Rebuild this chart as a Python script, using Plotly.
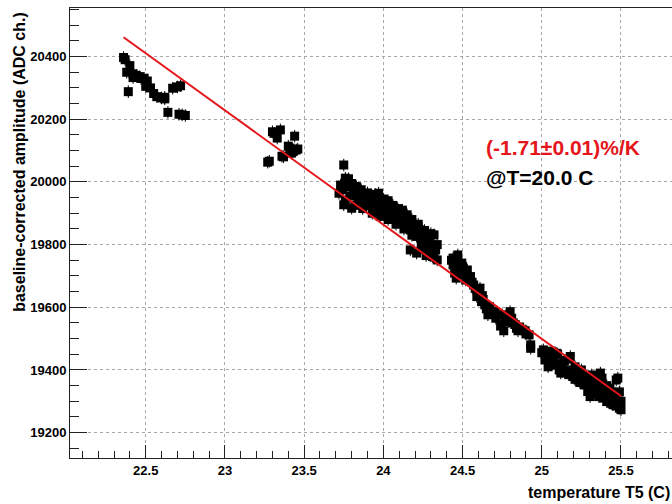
import plotly.graph_objects as go

# ---- data ----
temp_c1 = [22.36, 22.37, 22.40, 22.38, 22.39, 22.42, 22.42, 22.44, 22.46, 22.47, 22.49, 22.51, 22.50,
           22.53, 22.55, 22.57, 22.60, 22.62, 22.62, 22.64, 22.67, 22.70, 22.72, 22.71, 22.73, 22.75]
amp_c1 = [20397, 20390, 20371, 20350, 20288, 20345, 20333, 20340, 20336, 20330, 20331, 20322, 20305,
          20300, 20282, 20272, 20268, 20270, 20265, 20222, 20299, 20303, 20307, 20216, 20214, 20212]

temp_c2 = [23.27, 23.28, 23.30, 23.31, 23.33, 23.35, 23.36, 23.37, 23.40, 23.41, 23.43, 23.44, 23.45, 23.46, 23.42]
amp_c2 = [20063, 20066, 20160, 20155, 20140, 20166, 20082, 20080, 20114, 20108, 20097, 20146, 20102, 20105, 20092]

temp_c3 = [23.72, 23.73, 23.74, 23.75, 23.75, 23.76, 23.77, 23.78, 23.79, 23.80, 23.81, 23.82, 23.83, 23.84,
           23.85, 23.86, 23.87, 23.88, 23.89, 23.90, 23.91, 23.92, 23.93, 23.94, 23.95, 23.96, 23.97, 23.98,
           23.99, 24.00, 24.01, 24.02, 24.03, 24.04, 24.05, 24.06, 24.07, 24.08, 24.09, 24.10, 24.11, 24.12,
           24.13, 24.14, 24.15, 24.16, 24.17, 24.17, 24.18, 24.19, 24.20, 24.21, 24.21, 24.22, 24.23, 24.24,
           24.25, 24.26, 24.27, 24.28, 24.29, 24.30, 24.31, 24.32, 24.33, 24.34,
           23.78, 23.80, 23.83, 23.86, 23.90, 23.95, 24.00, 24.03, 24.06, 24.09, 24.12, 24.15, 24.18, 24.22,
           24.26, 24.30, 24.34, 23.76, 23.82, 23.87, 23.93, 23.98, 24.03, 24.08, 24.13, 24.18, 24.24, 24.27, 24.32]
amp_c3 = [19964, 19990, 19975, 20054, 19927, 20012, 19985, 19996, 19955, 19916, 19975, 19985, 19960, 19937,
          19950, 19964, 19945, 19930, 19953, 19940, 19925, 19937, 19955, 19921, 19940, 19910, 19964, 19927,
          19945, 19915, 19905, 19930, 19932, 19895, 19900, 19920, 19916, 19880, 19889, 19900, 19870, 19905,
          19873, 19890, 19884, 19860, 19847, 19783, 19870, 19863, 19840, 19826, 19773, 19855, 19847, 19805,
          19830, 19815, 19795, 19783, 19810, 19770, 19762, 19831, 19783, 19751,
          20010, 19995, 19985, 19975, 19965, 19960, 19945, 19940, 19925, 19915, 19910, 19895, 19880, 19865,
          19845, 19835, 19800, 19940, 19925, 19915, 19900, 19890, 19880, 19865, 19850, 19830, 19790, 19765, 19760]

temp_c4 = [24.43, 24.44, 24.44, 24.45, 24.46, 24.47, 24.48, 24.495, 24.51, 24.52, 24.53, 24.55, 24.57, 24.59,
           24.59, 24.61, 24.62, 24.625, 24.64, 24.66, 24.67, 24.705, 24.71, 24.74, 24.75, 24.76, 24.77, 24.78,
           24.80, 24.81, 24.83, 24.84, 24.86, 24.88, 24.895, 24.92, 24.93,
           24.45, 24.47, 24.50, 24.53, 24.56, 24.58, 24.60, 24.63, 24.65, 24.68, 24.72, 24.79, 24.82, 24.85, 24.90]
amp_c4 = [19750, 19757, 19735, 19709, 19693, 19767, 19720, 19741, 19705, 19687, 19719, 19698, 19671, 19634,
          19655, 19661, 19618, 19637, 19608, 19576, 19602, 19586, 19565, 19540, 19576, 19525, 19554, 19570,
          19586, 19565, 19545, 19533, 19537, 19528, 19525, 19512, 19480,
          19745, 19725, 19730, 19700, 19680, 19660, 19645, 19625, 19595, 19585, 19575, 19555, 19550, 19525, 19515]

temp_c5 = [24.93, 25.00, 25.01, 25.02, 25.03, 25.04, 25.05, 25.06, 25.06, 25.08, 25.095, 25.10, 25.10, 25.11,
           25.12, 25.13, 25.14, 25.15, 25.16, 25.17, 25.18, 25.19, 25.20, 25.21, 25.22, 25.23, 25.24, 25.25,
           25.26, 25.27, 25.28, 25.29, 25.30, 25.305, 25.315, 25.32, 25.33, 25.34, 25.35, 25.36, 25.37, 25.38,
           25.39, 25.40, 25.41, 25.42, 25.43, 25.44, 25.45, 25.46, 25.47, 25.48, 25.48, 25.49, 25.50, 25.50, 25.49,
           25.02, 25.07, 25.09, 25.13, 25.17, 25.21, 25.24, 25.27, 25.30, 25.33, 25.36, 25.39, 25.42, 25.45,
           25.47, 25.44, 25.41, 25.38, 25.35, 25.31]
amp_c5 = [19469, 19455, 19464, 19432, 19445, 19410, 19422, 19440, 19460, 19450, 19453, 19420, 19450, 19400,
          19390, 19415, 19430, 19395, 19400, 19435, 19443, 19385, 19379, 19410, 19374, 19368, 19395, 19400,
          19360, 19352, 19380, 19331, 19365, 19315, 19384, 19340, 19355, 19347, 19325, 19315, 19390, 19374,
          19340, 19331, 19299, 19320, 19342, 19294, 19289, 19315, 19368, 19374, 19289, 19278, 19273, 19300, 19330,
          19450, 19430, 19415, 19395, 19385, 19370, 19360, 19370, 19340, 19330, 19335, 19310, 19300, 19310,
          19285, 19330, 19350, 19355, 19365, 19360]

temperature = temp_c1 + temp_c2 + temp_c3 + temp_c4 + temp_c5
amplitude = amp_c1 + amp_c2 + amp_c3 + amp_c4 + amp_c5
amp_err = 20
temp_err = 0.02

# linear fit result: (-1.71 +- 0.01) %/K relative to amplitude at T = 20.0 C
fit_ref_temp = 20.0
fit_amp_at_ref = 21322.0
fit_slope_pct = -1.71

x_ticks = [22.5, 23, 23.5, 24, 24.5, 25, 25.5]
y_ticks = [19200, 19400, 19600, 19800, 20000, 20200, 20400]

# ---- figure ----
fit_x = [min(temperature), max(temperature)]
fit_y = [fit_amp_at_ref * (1 + fit_slope_pct / 100.0 * (t - fit_ref_temp)) for t in fit_x]

fig = go.Figure()
fig.add_trace(go.Scatter(
    x=temperature, y=amplitude, mode="markers",
    marker=dict(symbol="square", size=9, color="black", line=dict(width=0)),
    error_y=dict(type="constant", value=amp_err, color="black", thickness=1, width=0),
    error_x=dict(type="constant", value=temp_err, color="black", thickness=1, width=0),
    showlegend=False, hoverinfo="skip",
))
fig.add_trace(go.Scatter(
    x=fit_x, y=fit_y, mode="lines",
    line=dict(color="#e5161b", width=2), showlegend=False, hoverinfo="skip",
))

font_family = "Liberation Sans, Arial, Helvetica, sans-serif"

fig.update_layout(
    width=672, height=504,
    margin=dict(l=70, r=0, t=8, b=46),
    paper_bgcolor="white", plot_bgcolor="white",
    font=dict(family=font_family, color="black"),
    xaxis=dict(
        range=[22.022, 25.822], tickvals=x_ticks, ticktext=[str(v) for v in x_ticks],
        ticks="inside", ticklen=13, tickwidth=1, tickcolor="#222",
        showline=True, linecolor="#222", linewidth=1, mirror=True,
        showgrid=True, gridcolor="#a8a8a8", griddash="dot", gridwidth=1,
        zeroline=False,
        tickfont=dict(size=13, family=font_family, weight="bold"),
        minor=dict(dtick=0.1, tick0=22.0, ticks="inside", ticklen=7, tickcolor="#222", showgrid=False),
    ),
    yaxis=dict(
        range=[19119, 20555], tickvals=y_ticks, ticktext=[str(v) for v in y_ticks],
        ticks="inside", ticklen=17, tickwidth=1, tickcolor="#222",
        showline=True, linecolor="#222", linewidth=1, mirror=True,
        showgrid=True, gridcolor="#a8a8a8", griddash="dot", gridwidth=1,
        zeroline=False,
        tickfont=dict(size=13, family=font_family, weight="bold"),
        minor=dict(dtick=50, tick0=19100, ticks="inside", ticklen=9, tickcolor="#222", showgrid=False),
    ),
    annotations=[
        dict(text="baseline-corrected amplitude (ADC ch.)", xref="paper", yref="paper",
             x=-0.083, y=0.996, xanchor="center", yanchor="top", textangle=-90, showarrow=False,
             font=dict(size=16, family=font_family, color="black", weight="bold")),
        dict(text="temperature T5 (C)", xref="paper", yref="paper",
             x=1.0, y=-0.0756, xanchor="right", yanchor="middle", showarrow=False,
             font=dict(size=16, family=font_family, color="black", weight="bold")),
        dict(text="(-1.71±0.01)%/K", xref="x", yref="y",
             x=24.636, y=20109, xanchor="left", yanchor="middle", showarrow=False,
             font=dict(size=21, family=font_family, color="#e5161b", weight="bold")),
        dict(text="@T=20.0 C", xref="x", yref="y",
             x=24.636, y=20013, xanchor="left", yanchor="middle", showarrow=False,
             font=dict(size=21, family=font_family, color="black", weight="bold")),
    ],
)

fig.write_html("out.html", config={"displayModeBar": False},
               post_script="document.body.style.margin='0px';document.body.style.padding='0px';")
